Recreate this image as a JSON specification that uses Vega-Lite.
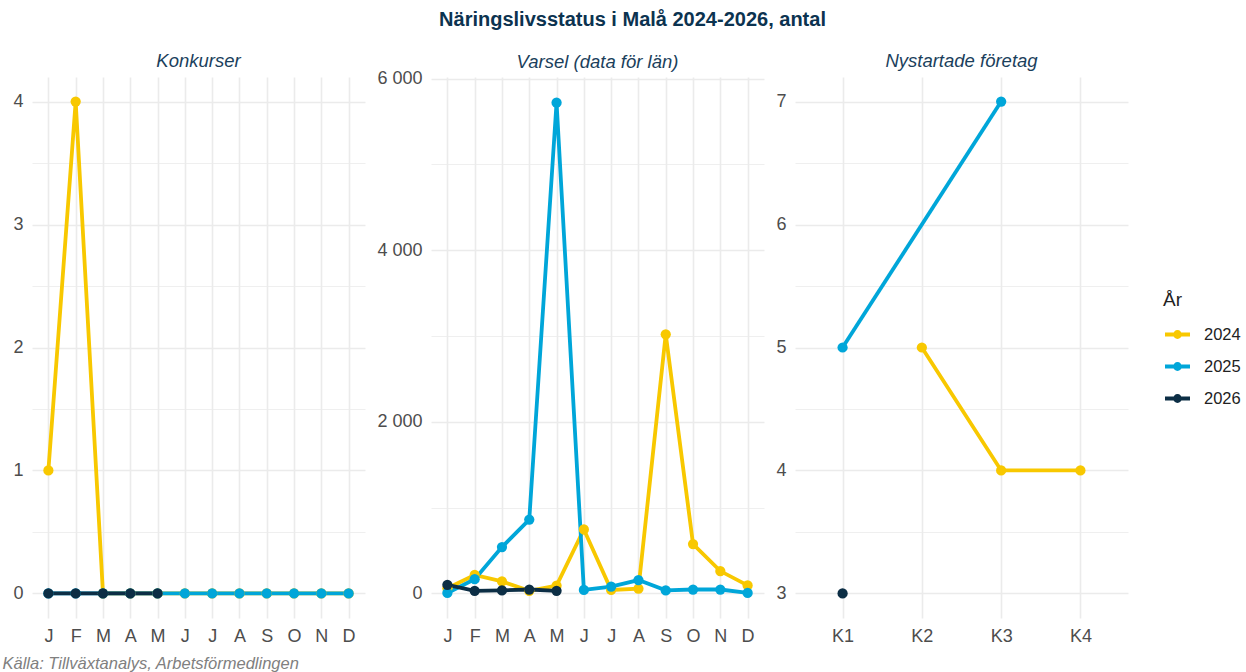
{
  "$schema": "https://vega.github.io/schema/vega-lite/v6.json",
  "padding": {"left": 2, "top": 9, "right": 6, "bottom": 2},
  "background": "white",
  "title": {
    "text": "Näringslivsstatus i Malå 2024-2026, antal",
    "anchor": "middle",
    "font": "Liberation Sans",
    "fontSize": 20,
    "fontWeight": "bold",
    "fontStyle": "normal",
    "color": "#0c3350",
    "offset": 22,
    "dx": 11
  },
  "config": {
    "font": "Liberation Sans",
    "view": {"stroke": null},
    "axis": {
      "domain": false,
      "ticks": false,
      "grid": true,
      "gridColor": "#ebebeb",
      "labelFont": "Liberation Sans",
      "labelFontSize": 18,
      "labelColor": "#4d4d4d",
      "labelPadding": 9
    },
    "title": {
      "font": "Liberation Sans",
      "fontSize": 18.5,
      "fontStyle": "italic",
      "fontWeight": "normal",
      "color": "#1b3f5c",
      "offset": 7
    }
  },
  "datasets": {
    "konk": [
      {"ar": "2024", "m": 1, "v": 1}, {"ar": "2024", "m": 2, "v": 4}, {"ar": "2024", "m": 3, "v": 0}, {"ar": "2024", "m": 4, "v": 0},
      {"ar": "2024", "m": 5, "v": 0}, {"ar": "2024", "m": 6, "v": 0}, {"ar": "2024", "m": 7, "v": 0}, {"ar": "2024", "m": 8, "v": 0},
      {"ar": "2024", "m": 9, "v": 0}, {"ar": "2024", "m": 10, "v": 0}, {"ar": "2024", "m": 11, "v": 0}, {"ar": "2024", "m": 12, "v": 0},
      {"ar": "2025", "m": 1, "v": 0}, {"ar": "2025", "m": 2, "v": 0}, {"ar": "2025", "m": 3, "v": 0}, {"ar": "2025", "m": 4, "v": 0},
      {"ar": "2025", "m": 5, "v": 0}, {"ar": "2025", "m": 6, "v": 0}, {"ar": "2025", "m": 7, "v": 0}, {"ar": "2025", "m": 8, "v": 0},
      {"ar": "2025", "m": 9, "v": 0}, {"ar": "2025", "m": 10, "v": 0}, {"ar": "2025", "m": 11, "v": 0}, {"ar": "2025", "m": 12, "v": 0},
      {"ar": "2026", "m": 1, "v": 0}, {"ar": "2026", "m": 2, "v": 0}, {"ar": "2026", "m": 3, "v": 0}, {"ar": "2026", "m": 4, "v": 0},
      {"ar": "2026", "m": 5, "v": 0}
    ],
    "varsel": [
      {"ar": "2024", "m": 1, "v": 60}, {"ar": "2024", "m": 2, "v": 215}, {"ar": "2024", "m": 3, "v": 140}, {"ar": "2024", "m": 4, "v": 30},
      {"ar": "2024", "m": 5, "v": 90}, {"ar": "2024", "m": 6, "v": 746}, {"ar": "2024", "m": 7, "v": 40}, {"ar": "2024", "m": 8, "v": 55},
      {"ar": "2024", "m": 9, "v": 3020}, {"ar": "2024", "m": 10, "v": 575}, {"ar": "2024", "m": 11, "v": 260}, {"ar": "2024", "m": 12, "v": 93},
      {"ar": "2025", "m": 1, "v": 5}, {"ar": "2025", "m": 2, "v": 165}, {"ar": "2025", "m": 3, "v": 540}, {"ar": "2025", "m": 4, "v": 860},
      {"ar": "2025", "m": 5, "v": 5720}, {"ar": "2025", "m": 6, "v": 40}, {"ar": "2025", "m": 7, "v": 80}, {"ar": "2025", "m": 8, "v": 155},
      {"ar": "2025", "m": 9, "v": 35}, {"ar": "2025", "m": 10, "v": 45}, {"ar": "2025", "m": 11, "v": 45}, {"ar": "2025", "m": 12, "v": 5},
      {"ar": "2026", "m": 1, "v": 100}, {"ar": "2026", "m": 2, "v": 30}, {"ar": "2026", "m": 3, "v": 35}, {"ar": "2026", "m": 4, "v": 45},
      {"ar": "2026", "m": 5, "v": 30}
    ],
    "nyst": [
      {"ar": "2024", "q": "K2", "v": 5}, {"ar": "2024", "q": "K3", "v": 4}, {"ar": "2024", "q": "K4", "v": 4},
      {"ar": "2025", "q": "K1", "v": 5}, {"ar": "2025", "q": "K3", "v": 7},
      {"ar": "2026", "q": "K1", "v": 3}
    ]
  },
  "spacing": 11,
  "resolve": {"scale": {"color": "shared", "x": "independent", "y": "independent"}},
  "hconcat": [
    {
      "width": 333,
      "height": 541,
      "title": {"text": "Konkurser"},
      "data": {"name": "konk"},
      "mark": {"type": "line", "strokeWidth": 3.8, "point": {"size": 105, "filled": true, "opacity": 1}},
      "encoding": {
        "x": {
          "field": "m", "type": "ordinal",
          "scale": {"type": "point", "padding": 0.6},
          "axis": {
            "labelAngle": 0,
            "labelExpr": "['J','F','M','A','M','J','J','A','S','O','N','D'][datum.value-1]",
            "gridWidth": 1.6,
            "title": "Källa: Tillväxtanalys, Arbetsförmedlingen",
            "titleFont": "Liberation Sans",
            "titleFontSize": 16.5,
            "titleFontStyle": "italic",
            "titleFontWeight": "normal",
            "titleColor": "#808080",
            "titleAnchor": "start",
            "titleAlign": "left",
            "titleBaseline": "middle",
            "titleX": -30,
            "titleY": 45
          }
        },
        "y": {
          "field": "v", "type": "quantitative",
          "scale": {"domain": [-0.2, 4.2], "nice": false, "zero": false},
          "axis": {
            "title": null,
            "values": [0, 0.5, 1, 1.5, 2, 2.5, 3, 3.5, 4],
            "labelExpr": "datum.value % 1 == 0 ? format(datum.value, 'd') : ''",
            "gridWidth": {"condition": {"test": "datum.value % 1 != 0", "value": 0.8}, "value": 1.6}
          }
        },
        "color": {
          "field": "ar", "type": "nominal",
          "scale": {"domain": ["2024", "2025", "2026"], "range": ["#f8c800", "#00a6d9", "#0c2e45"]},
          "legend": {
            "title": "År",
            "orient": "none",
            "legendX": 1131,
            "legendY": 214,
            "titleFont": "Liberation Sans",
            "titleFontSize": 19,
            "titleFontWeight": "normal",
            "titleColor": "#222222",
            "titlePadding": 10,
            "labelFont": "Liberation Sans",
            "labelFontSize": 16.5,
            "labelColor": "#222222",
            "labelOffset": 12,
            "symbolType": "M-1,0L1,0M-0.2,0a0.2,0.2 0 1,0 0.4,0a0.2,0.2 0 1,0 -0.4,0",
            "symbolSize": 625,
            "symbolStrokeWidth": 3.8,
            "rowPadding": 7
          }
        }
      }
    },
    {
      "width": 333,
      "height": 541,
      "title": {"text": "Varsel (data för län)", "offset": -2},
      "data": {"name": "varsel"},
      "mark": {"type": "line", "strokeWidth": 3.8, "point": {"size": 105, "filled": true, "opacity": 1}},
      "encoding": {
        "x": {
          "field": "m", "type": "ordinal",
          "scale": {"type": "point", "padding": 0.6},
          "axis": {
            "title": null,
            "labelAngle": 0,
            "labelExpr": "['J','F','M','A','M','J','J','A','S','O','N','D'][datum.value-1]",
            "gridWidth": 1.6
          }
        },
        "y": {
          "field": "v", "type": "quantitative",
          "scale": {"domain": [-287, 6019], "nice": false, "zero": false},
          "axis": {
            "title": null,
            "values": [0, 1000, 2000, 3000, 4000, 5000, 6000],
            "labelExpr": "datum.value % 2000 == 0 ? replace(format(datum.value, ','), ',', ' ') : ''",
            "gridWidth": {"condition": {"test": "datum.value % 2000 != 0", "value": 0.8}, "value": 1.6}
          }
        },
        "color": {"field": "ar", "type": "nominal"}
      }
    },
    {
      "width": 333,
      "height": 541,
      "title": {"text": "Nystartade företag"},
      "data": {"name": "nyst"},
      "mark": {"type": "line", "strokeWidth": 3.8, "point": {"size": 105, "filled": true, "opacity": 1}},
      "encoding": {
        "x": {
          "field": "q", "type": "ordinal",
          "scale": {"type": "point", "padding": 0.6, "domain": ["K1", "K2", "K3", "K4"]},
          "axis": {"title": null, "labelAngle": 0, "gridWidth": 1.6}
        },
        "y": {
          "field": "v", "type": "quantitative",
          "scale": {"domain": [2.8, 7.2], "nice": false, "zero": false},
          "axis": {
            "title": null,
            "values": [3, 3.5, 4, 4.5, 5, 5.5, 6, 6.5, 7],
            "labelExpr": "datum.value % 1 == 0 ? format(datum.value, 'd') : ''",
            "gridWidth": {"condition": {"test": "datum.value % 1 != 0", "value": 0.8}, "value": 1.6}
          }
        },
        "color": {"field": "ar", "type": "nominal"}
      }
    }
  ]
}
